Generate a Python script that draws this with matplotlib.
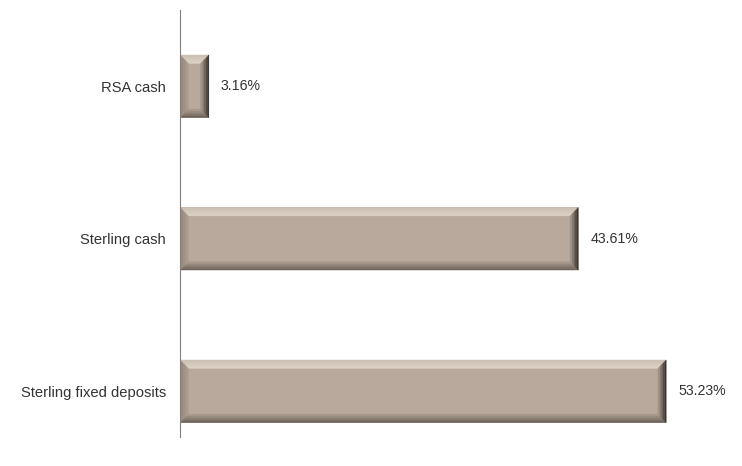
import matplotlib
matplotlib.use("Agg")
import matplotlib.pyplot as plt
import numpy as np
from matplotlib.patches import Polygon
from matplotlib.colors import to_rgb

categories = ["RSA cash", "Sterling cash", "Sterling fixed deposits"]
values = [3.16, 43.61, 53.23]
labels = ["3.16%", "43.61%", "53.23%"]

plt.rcParams["font.family"] = ["Liberation Sans", "DejaVu Sans"]

fig = plt.figure(figsize=(7.42, 4.66), dpi=100)
ax = fig.add_axes([180 / 742, 29 / 466, 548 / 742, 427 / 466])

face = "#b8a99c"
# outer -> inner colours for each bevel side
sides = {
    "top": ("#cdc0b4", "#ddd1c6"),
    "bottom": ("#6f645b", "#a5978a"),
    "left": ("#948578", "#aa9b8e"),
    "right": ("#3b332d", "#a09286"),
}
h = 0.41
bx = 0.9    # bevel in x data units
by = 0.055  # bevel in y data units
n = 5


def mix(c1, c2, t):
    a, b = np.array(to_rgb(c1)), np.array(to_rgb(c2))
    return tuple(a + (b - a) * t)


for i, v in enumerate(values):
    y0, y1 = i - h / 2, i + h / 2
    ax.barh(i, v, height=h, color=face, zorder=2)
    b = min(bx, v / 3)
    for k in range(n):
        f0, f1 = k / n, (k + 1) / n
        t = k / (n - 1)
        xa0, xa1 = b * f0, b * f1
        ya0, ya1 = by * f0, by * f1
        polys = {
            "top": [(xa0, y0 + ya0), (v - xa0, y0 + ya0), (v - xa1, y0 + ya1), (xa1, y0 + ya1)],
            "bottom": [(xa0, y1 - ya0), (v - xa0, y1 - ya0), (v - xa1, y1 - ya1), (xa1, y1 - ya1)],
            "left": [(xa0, y0 + ya0), (xa1, y0 + ya1), (xa1, y1 - ya1), (xa0, y1 - ya0)],
            "right": [(v - xa0, y0 + ya0), (v - xa1, y0 + ya1), (v - xa1, y1 - ya1), (v - xa0, y1 - ya0)],
        }
        for s, pts in polys.items():
            ax.add_patch(Polygon(pts, color=mix(*sides[s], t), zorder=3, lw=0.3))
    ax.text(v + 1.3, i, labels[i], va="center", ha="left", fontsize=10.2, color="#333333")

ax.set_xlim(0, 60)
ax.set_ylim(2.3, -0.5)
ax.set_yticks(range(len(categories)))
ax.set_yticklabels(categories, fontsize=10.6, color="#333333")
ax.tick_params(axis="y", length=0, pad=10)
ax.set_xticks([])
for s in ["top", "right", "bottom"]:
    ax.spines[s].set_visible(False)
ax.spines["left"].set_color("#808080")
ax.spines["left"].set_zorder(4)

fig.savefig("out.png", dpi=100)
